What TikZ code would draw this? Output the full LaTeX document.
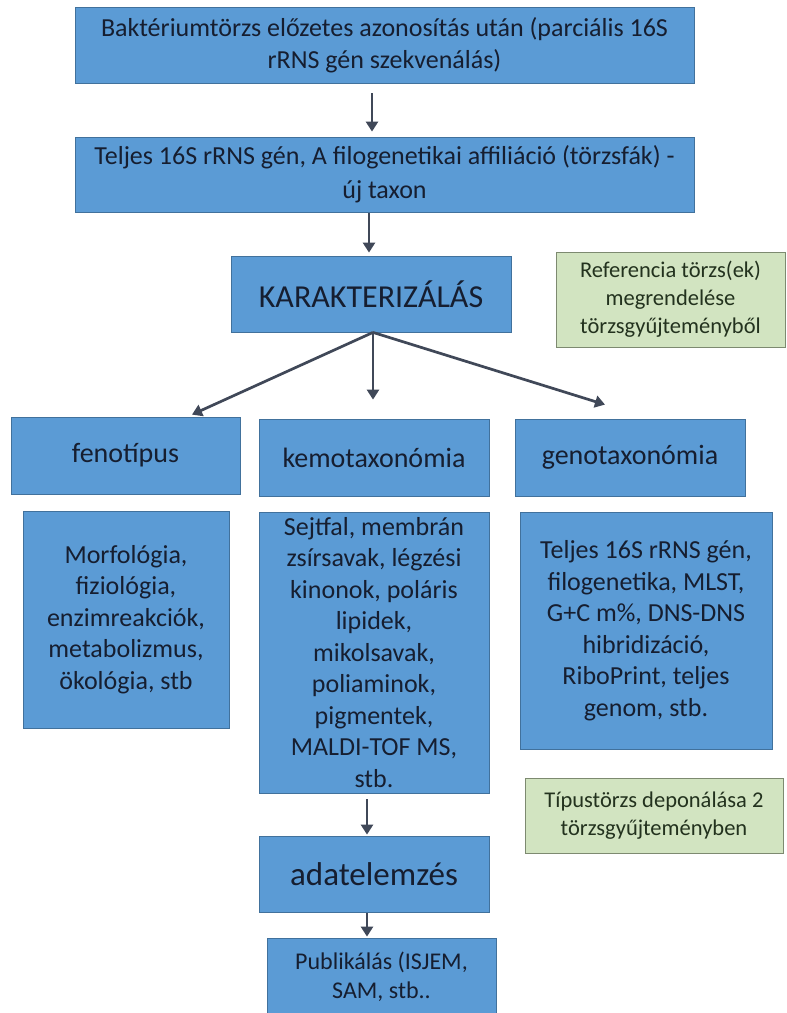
\documentclass[tikz,border=0pt]{standalone}
\usepackage{fontspec}
\setmainfont{Carlito}
\usetikzlibrary{arrows.meta}
\definecolor{boxblue}{RGB}{91,155,213}
\definecolor{boxedge}{RGB}{65,113,156}
\definecolor{txt}{RGB}{22,30,48}
\definecolor{gfill}{RGB}{210,228,193}
\definecolor{gedge}{RGB}{125,138,112}
\definecolor{gtxt}{RGB}{35,50,30}
\definecolor{arrcol}{RGB}{64,72,88}
\newcommand\fsz[2]{\fontsize{#1}{#2}\selectfont}
\begin{document}
\begin{tikzpicture}[x=1pt,y=-1pt,
  bluebox/.style={draw=boxedge, line width=0.8pt, fill=boxblue, text=txt, align=center, inner sep=0pt},
  greenbox/.style={draw=gedge, line width=0.8pt, fill=gfill, text=gtxt, align=center, inner sep=0pt, font=\fsz{22.5}{28}},
  arrowline/.style={draw=arrcol, line width=2.7pt, -{Triangle[width=12pt,length=10pt]}}]
\fill[white] (0,0) rectangle (787,1013);
\useasboundingbox (0,0) rectangle (787,1013);

\node[bluebox, minimum width=619pt, minimum height=76pt, font=\fsz{26}{32}] (b1) at (384.5,45)
  {Baktériumtörzs előzetes azonosítás után (parciális 16S\\rRNS gén szekvenálás)};
\node[bluebox, minimum width=619pt, minimum height=75pt, font=\fsz{26}{34}] (b2) at (384.5,174.5)
  {Teljes 16S rRNS gén, A filogenetikai affiliáció (törzsfák) -\\új taxon};
\node[bluebox, minimum width=280pt, minimum height=76pt, font=\fsz{32}{38}] (karak) at (371,294) {KARAKTERIZÁLÁS};
\node[greenbox, minimum width=229pt, minimum height=95pt] (g1) at (670.5,299.5)
  {Referencia törzs(ek)\\megrendelése\\törzsgyűjteményből};

\node[bluebox, minimum width=229pt, minimum height=77pt, font=\fsz{28}{34}] (feno) at (125.5,455.5) {fenotípus};
\node[bluebox, minimum width=230pt, minimum height=77pt, font=\fsz{28}{34}] (kemo) at (374,457.5) {kemotaxonómia};
\node[bluebox, minimum width=230pt, minimum height=77pt, font=\fsz{28}{34}] (geno) at (630,457.5) {genotaxonómia};

\node[bluebox, minimum width=206pt, minimum height=217pt, font=\fsz{26}{31.5}] (morf) at (126,619.5)
  {Morfológia,\\fiziológia,\\enzimreakciók,\\metabolizmus,\\ökológia, stb};
\node[bluebox, minimum width=230pt, minimum height=281pt, font=\fsz{26}{31.5}] (kemob) at (374,652.5)
  {Sejtfal, membrán\\zsírsavak, légzési\\kinonok, poláris\\lipidek,\\mikolsavak,\\poliaminok,\\pigmentek,\\MALDI-TOF MS,\\stb.};
\node[bluebox, minimum width=252pt, minimum height=237pt, font=\fsz{26}{31.5}] (genob) at (646,630.5)
  {Teljes 16S rRNS gén,\\filogenetika, MLST,\\G+C m\%, DNS-DNS\\hibridizáció,\\RiboPrint, teljes\\genom, stb.};

\node[greenbox, minimum width=258pt, minimum height=75pt] (g2) at (654,815.5)
  {Típustörzs deponálása 2\\törzsgyűjteményben};
\node[bluebox, minimum width=230pt, minimum height=76pt, font=\fsz{33}{38}] (adat) at (374,874) {adatelemzés};
\node[bluebox, minimum width=229pt, minimum height=78pt, font=\fsz{24}{29}] (publ) at (381.5,977)
  {Publikálás (ISJEM,\\SAM, stb..};

\draw[arrowline] ([xshift=-12.5pt,yshift=-10pt]b1.south) -- ([xshift=-12.5pt,yshift=5pt]b2.north);
\draw[arrowline] ([xshift=-15.5pt,yshift=-1pt]b2.south) -- ([xshift=-2pt,yshift=3pt]karak.north);
\draw[arrowline] ([xshift=2pt]karak.south) -- ([xshift=66.5pt,yshift=2pt]feno.north);
\draw[arrowline] ([xshift=2pt]karak.south) -- ([xshift=-1pt,yshift=19pt]kemo.north);
\draw[arrowline] ([xshift=2pt]karak.south) -- ([xshift=-25pt,yshift=14pt]geno.north);
\draw[arrowline] ([xshift=-7pt,yshift=-6pt]kemob.south) -- ([xshift=-7pt,yshift=1pt]adat.north);
\draw[arrowline] ([xshift=-7pt,yshift=-1pt]adat.south) -- ([xshift=-14.5pt,yshift=1pt]publ.north);
\end{tikzpicture}
\end{document}
